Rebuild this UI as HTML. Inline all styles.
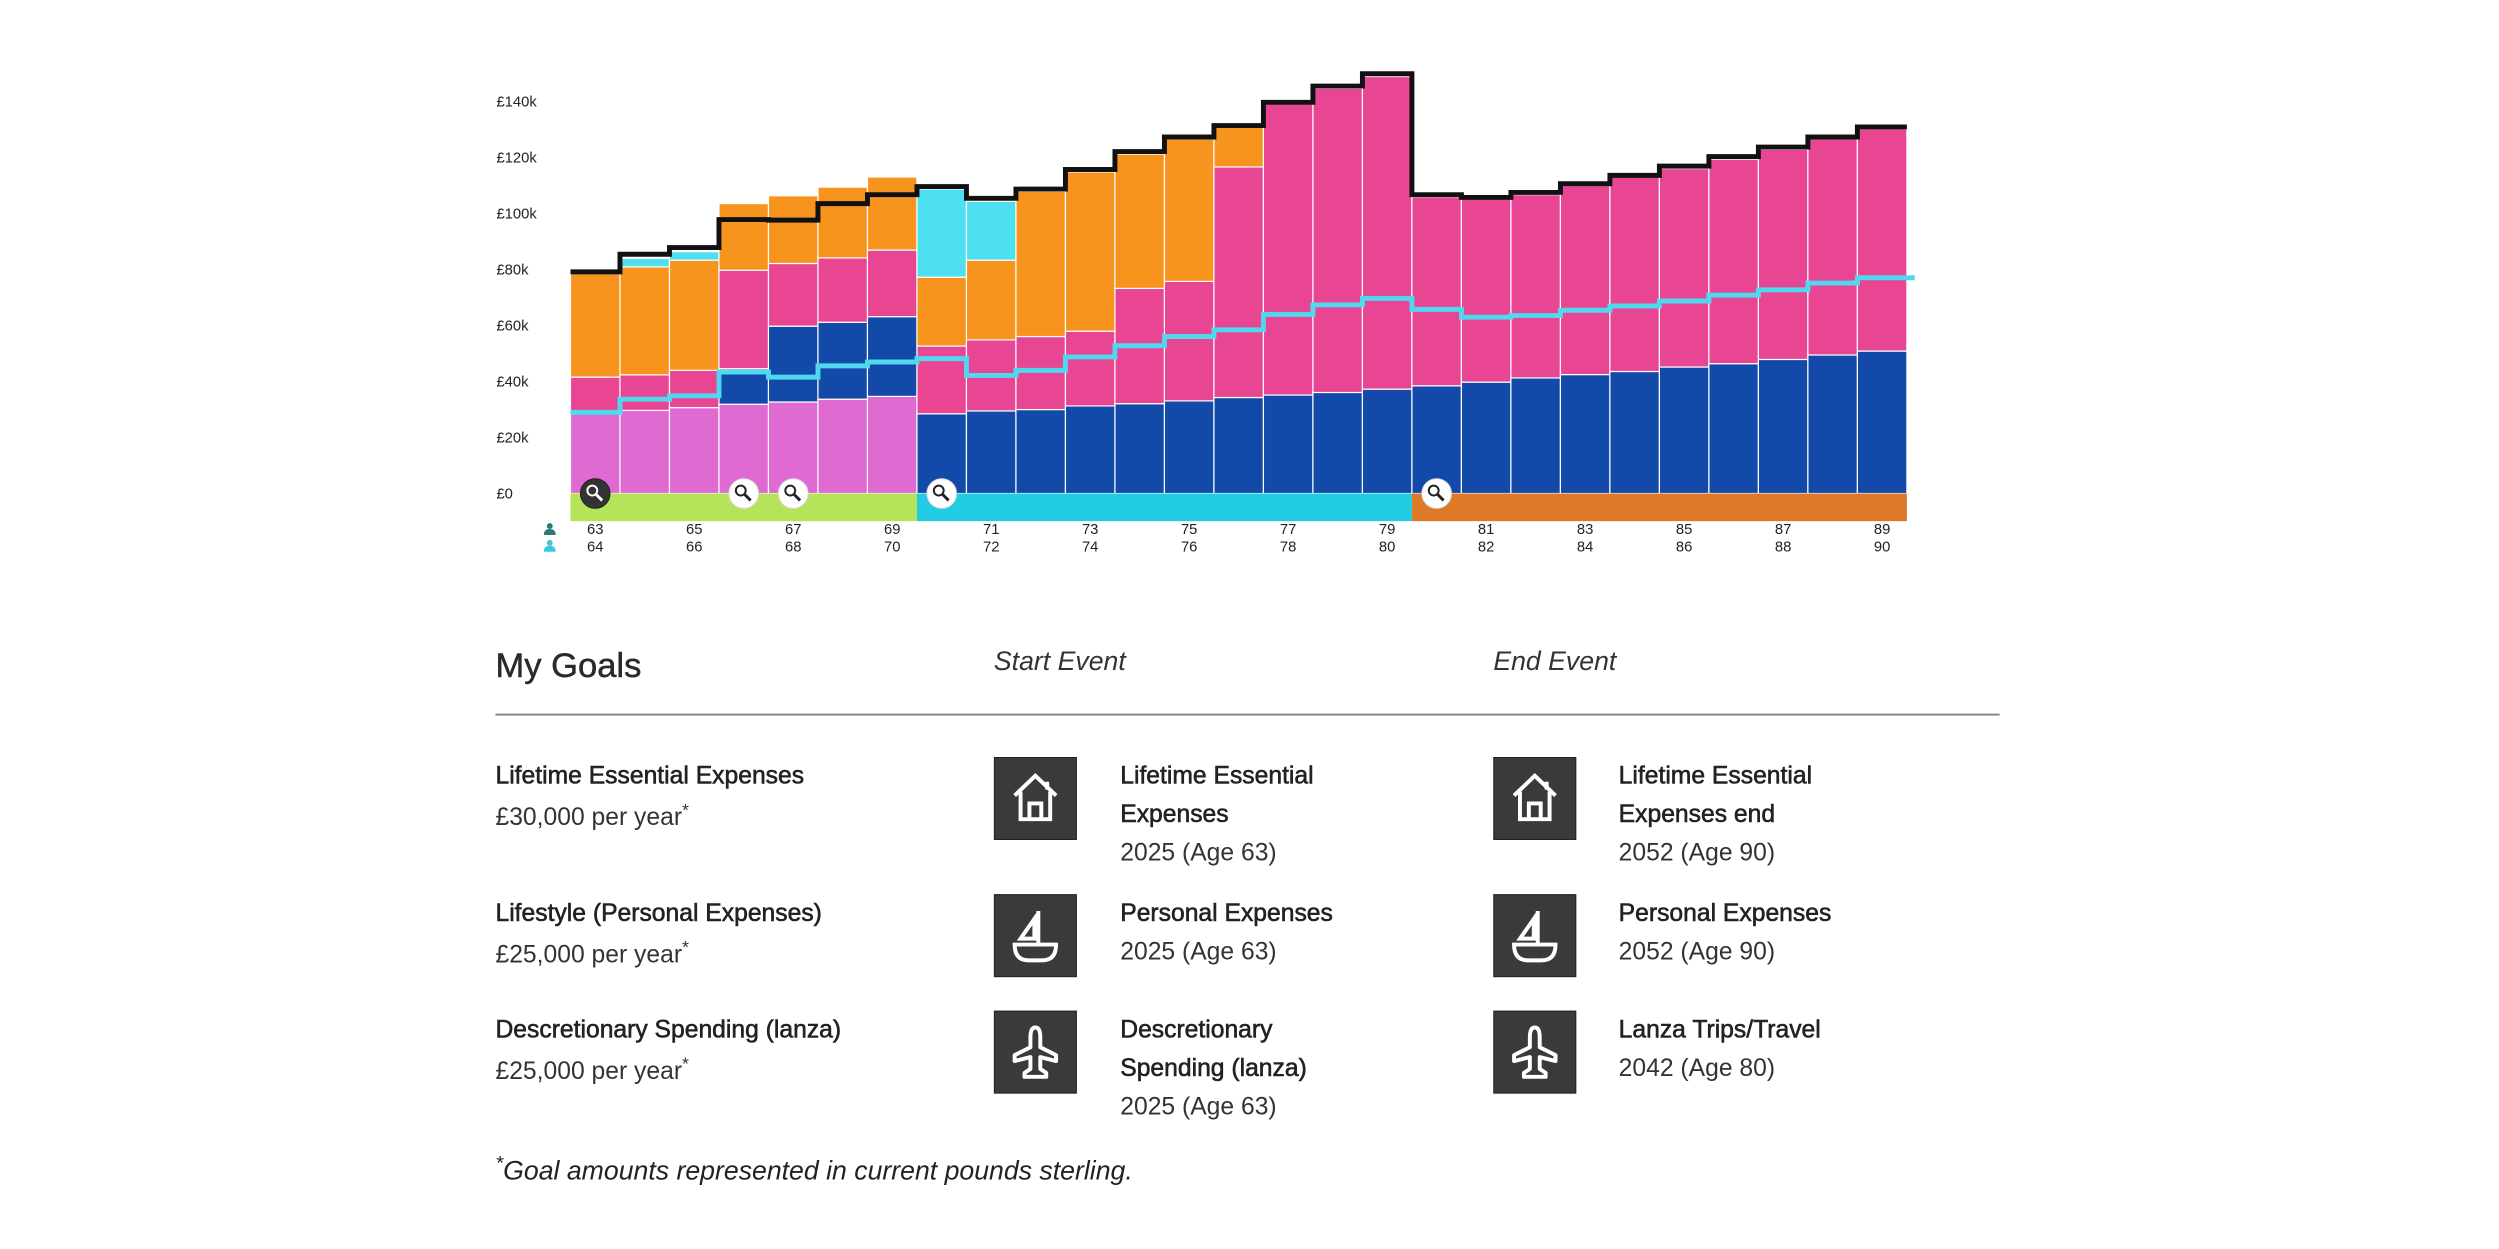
<!DOCTYPE html>
<html><head><meta charset="utf-8">
<style>
html,body{margin:0;padding:0;background:#fff;}
body{width:2499px;height:1249px;position:relative;overflow:hidden;font-family:"Liberation Sans",sans-serif;color:#222;}
#wrap{position:absolute;left:0;top:0;width:2499px;height:1249px;transform:scale(0.987);transform-origin:0 0;}
.t{position:absolute;white-space:nowrap;}
.title{font-size:25px;line-height:39px;-webkit-text-stroke:0.6px #222;}
.sub{font-size:25px;line-height:39px;color:#333;}
.sub sup{font-size:18px;line-height:0;}
.ico{position:absolute;width:82px;height:82px;background:#3a3a3a;border:1px solid #222;}
</style></head><body>
<div id="wrap">
<svg id="chart" width="2499" height="600" style="position:absolute;left:0;top:0" xmlns="http://www.w3.org/2000/svg"></svg>

<div class="t" style="left:502px;top:652px;font-size:35px;line-height:46px;color:#2a2a2a;-webkit-text-stroke:0.5px #2a2a2a">My Goals</div>
<div class="t" style="left:1007px;top:655px;font-size:27px;font-style:italic;color:#333">Start Event</div>
<div class="t" style="left:1513px;top:655px;font-size:27px;font-style:italic;color:#333">End Event</div>
<div style="position:absolute;left:502px;top:723px;width:1524px;height:2px;background:#888"></div>

<div class="t title" style="left:502px;top:767px">Lifetime Essential Expenses</div>
<div class="t sub" style="left:502px;top:809px">£30,000 per year<sup>*</sup></div>
<div class="t title" style="left:502px;top:906px">Lifestyle (Personal Expenses)</div>
<div class="t sub" style="left:502px;top:948px">£25,000 per year<sup>*</sup></div>
<div class="t title" style="left:502px;top:1024px">Descretionary Spending (lanza)</div>
<div class="t sub" style="left:502px;top:1066px">£25,000 per year<sup>*</sup></div>

<div class="ico" style="left:1007px;top:767px"><svg width="82" height="82" viewBox="0 0 82 82"><g fill="none" stroke="#fff" stroke-width="4"><path d="M20 38 L41 18 L62 38"/><path d="M26 34 V62 H56 V34"/><path d="M35 62 V46 H47 V62"/><path d="M53 24 V32"/></g></svg></div>
<div class="ico" style="left:1007px;top:906px"><svg width="82" height="82" viewBox="0 0 82 82"><g fill="none" stroke="#fff" stroke-width="4"><path d="M44 16 V50 M40 24 L26 44 H40 Z"/><path d="M20 50 H62 Q62 66 48 66 H34 Q20 66 20 50 Z"/></g></svg></div>
<div class="ico" style="left:1007px;top:1024px"><svg width="82" height="82" viewBox="0 0 82 82"><path d="M41 16 Q46 16 46 26 V36 L62 44 V50 L46 46 V58 L52 62 V66 H30 V62 L36 58 V46 L20 50 V44 L36 36 V26 Q36 16 41 16 Z" fill="none" stroke="#fff" stroke-width="4" stroke-linejoin="round"/></svg></div>
<div class="ico" style="left:1513px;top:767px"><svg width="82" height="82" viewBox="0 0 82 82"><g fill="none" stroke="#fff" stroke-width="4"><path d="M20 38 L41 18 L62 38"/><path d="M26 34 V62 H56 V34"/><path d="M35 62 V46 H47 V62"/><path d="M53 24 V32"/></g></svg></div>
<div class="ico" style="left:1513px;top:906px"><svg width="82" height="82" viewBox="0 0 82 82"><g fill="none" stroke="#fff" stroke-width="4"><path d="M44 16 V50 M40 24 L26 44 H40 Z"/><path d="M20 50 H62 Q62 66 48 66 H34 Q20 66 20 50 Z"/></g></svg></div>
<div class="ico" style="left:1513px;top:1024px"><svg width="82" height="82" viewBox="0 0 82 82"><path d="M41 16 Q46 16 46 26 V36 L62 44 V50 L46 46 V58 L52 62 V66 H30 V62 L36 58 V46 L20 50 V44 L36 36 V26 Q36 16 41 16 Z" fill="none" stroke="#fff" stroke-width="4" stroke-linejoin="round"/></svg></div>

<div class="t title" style="left:1135px;top:767px">Lifetime Essential<br>Expenses</div>
<div class="t sub" style="left:1135px;top:845px">2025 (Age 63)</div>
<div class="t title" style="left:1135px;top:906px">Personal Expenses</div>
<div class="t sub" style="left:1135px;top:945px">2025 (Age 63)</div>
<div class="t title" style="left:1135px;top:1024px">Descretionary<br>Spending (lanza)</div>
<div class="t sub" style="left:1135px;top:1102px">2025 (Age 63)</div>

<div class="t title" style="left:1640px;top:767px">Lifetime Essential<br>Expenses end</div>
<div class="t sub" style="left:1640px;top:845px">2052 (Age 90)</div>
<div class="t title" style="left:1640px;top:906px">Personal Expenses</div>
<div class="t sub" style="left:1640px;top:945px">2052 (Age 90)</div>
<div class="t title" style="left:1640px;top:1024px">Lanza Trips/Travel</div>
<div class="t sub" style="left:1640px;top:1063px">2042 (Age 80)</div>

<div class="t" style="left:502px;top:1168px;font-size:27px;font-style:italic;color:#222"><sup style="font-size:20px">*</sup>Goal amounts represented in current pounds sterling.</div>
</div>

<script>
const ages1 = [63,64,65,66,67,68,69,70,71,72,73,74,75,76,77,78,79,80,81,82,83,84,85,86,87,88,89];
const ages2 = [64,65,66,67,68,69,70,71,72,73,74,75,76,77,78,79,80,81,82,83,84,85,86,87,88,89,90];
const lilac  = [28.8,29.7,30.7,31.9,32.7,33.7,34.7,0,0,0,0,0,0,0,0,0,0,0,0,0,0,0,0,0,0,0,0];
const blue   = [0,0,0,12.7,27.1,27.5,28.5,28.5,29.5,30,31.3,32.1,33.1,34.3,35.2,36.1,37.3,38.5,39.8,41.3,42.5,43.6,45.2,46.4,47.9,49.5,50.9];
const pink   = [12.8,12.7,13.3,35.2,22.4,23,23.8,24.2,25.4,26.1,26.7,41.2,42.7,82.4,104,108.7,111.7,67.5,65.4,65.5,67.5,69.5,70.9,73,75.1,77.2,79.4];
const orange = [36.9,38.6,39.4,23.8,24.2,25.3,26.1,24.6,28.5,51.9,56.9,48,50.9,14.2,0,0,0,0,0,0,0,0,0,0,0,0,0];
const cyanSeg= [0,3,3,0,0,0,0,31.5,21,0,0,0,0,0,0,0,0,0,0,0,0,0,0,0,0,0,0];
const totalLine = [79.2,85.5,87.9,97.9,97.7,103.6,106.8,109.7,105.5,108.8,115.8,122.2,127.4,131.5,139.8,145.6,150,106.8,105.8,107.6,110.7,113.7,117,120.4,123.8,127.4,131];
const cyanLine  = [29,33.7,34.9,43.4,41.6,45.6,47,48.2,42.2,44,48.8,52.8,56.1,58.5,64,67.4,69.7,65.8,63,63.6,65.5,67,68.8,70.9,72.8,75.2,77.1];
const yTicks = [0,20,40,60,80,100,120,140];
const phases = [{from:0,to:7,color:'#b5e35a'},{from:7,to:17,color:'#22cde3'},{from:17,to:27,color:'#dc7a28'}];
const zoomBars = [0,3,4,7,17];

const svg = document.getElementById('chart');
const NS = 'http://www.w3.org/2000/svg';
const X0 = 578, X1 = 1932, Y0 = 500, PXK = 2.835;
const n = ages1.length, bw = (X1 - X0) / n;
const xs = i => X0 + i * bw;
const ys = v => Y0 - v * PXK;
function mk(tag, attrs, parent){const e=document.createElementNS(NS,tag);for(const k in attrs)e.setAttribute(k,attrs[k]);(parent||svg).appendChild(e);return e;}

yTicks.forEach(v=>{
  const t = mk('text',{x:503,y:ys(v)+5,'font-size':15,fill:'#222','font-family':'Liberation Sans, sans-serif'});
  t.textContent = '£'+(v===0?'0':v+'k');
  
  
});

const layers = [[lilac,'#df6ad2','lilac'],[blue,'#1349a8','blue'],[pink,'#e84592','pink'],[orange,'#f7941d','orange'],[cyanSeg,'#4ee0f0','cyan']];
for(let i=0;i<n;i++){
  let base=0;
  layers.forEach(([arr,col,nm])=>{
    const v=arr[i]; if(!v) return;
    const r = mk('rect',{x:xs(i),y:ys(base+v),width:bw,height:v*PXK,fill:col,stroke:'#fff','stroke-width':1.2});
    
    
    base+=v;
  });
}
function stepPath(arr, extra){
  let d='M'+xs(0)+' '+ys(arr[0]);
  for(let i=0;i<arr.length;i++){
    if(i>0) d+=' L'+xs(i)+' '+ys(arr[i]);
    d+=' L'+(xs(i+1)+(i===arr.length-1?extra:0))+' '+ys(arr[i]);
  }
  return d;
}
const tl = mk('path',{d:stepPath(totalLine,0),fill:'none',stroke:'#111','stroke-width':5});


const cl = mk('path',{d:stepPath(cyanLine,8),fill:'none',stroke:'#4fd8ee','stroke-width':5});



phases.forEach((p,k)=>{
  const r = mk('rect',{x:xs(p.from),y:Y0,width:xs(p.to)-xs(p.from),height:28,fill:p.color});
  
  
});
zoomBars.forEach((b,k)=>{
  const cx = xs(b)+bw/2, cy=Y0;
  const g = mk('g',{});
  
  
  const dark = k===0;
  mk('circle',{cx:cx,cy:cy,r:15,fill:dark?'#333':'#fff',stroke:dark?'#222':'#ddd','stroke-width':1},g);
  const c2 = dark?'#fff':'#222';
  mk('circle',{cx:cx-3,cy:cy-3,r:5,fill:'none',stroke:c2,'stroke-width':2},g);
  mk('line',{x1:cx+1,y1:cy+1,x2:cx+7,y2:cy+7,stroke:c2,'stroke-width':3},g);
});
for(let i=0;i<n;i+=2){
  const cx = xs(i)+bw/2;
  const a = mk('text',{x:cx,y:541,'font-size':15,'text-anchor':'middle',fill:'#222','font-family':'Liberation Sans, sans-serif'});
  a.textContent = ages1[i];
  
  
  const b = mk('text',{x:cx,y:559,'font-size':15,'text-anchor':'middle',fill:'#222','font-family':'Liberation Sans, sans-serif'});
  b.textContent = ages2[i];
  
  
}
[[536,'#2a7a78'],[553,'#3fc7e0']].forEach(([y,c],k)=>{
  const g = mk('g',{});
  
  
  mk('circle',{cx:557,cy:y-3,r:3,fill:c},g);
  mk('path',{d:`M551 ${y+6} Q551 ${y} 557 ${y} Q563 ${y} 563 ${y+6} Z`,fill:c},g);
});
</script>
</body></html>
